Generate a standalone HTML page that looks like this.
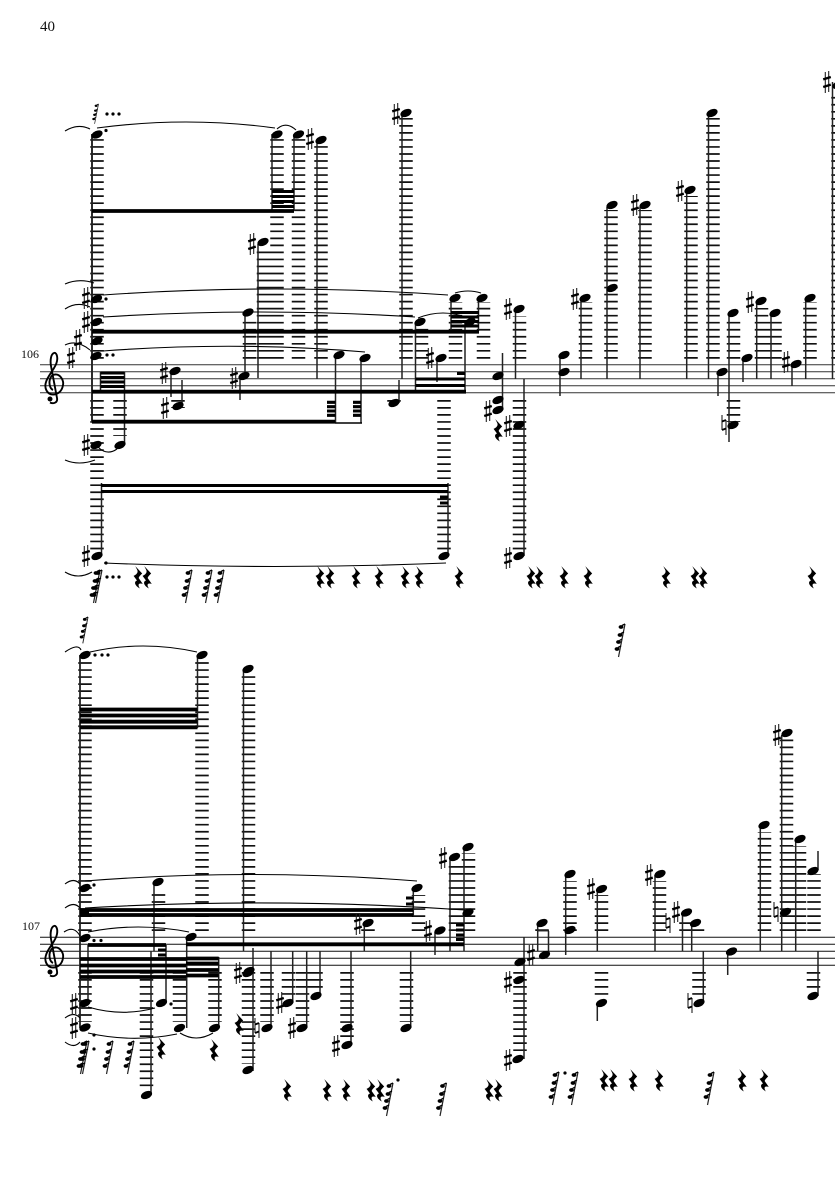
<!DOCTYPE html>
<html><head><meta charset="utf-8"><style>
html,body{margin:0;padding:0;background:#fff}svg{display:block}
.t{font-family:"Liberation Serif",serif;fill:#111}
.sl{fill:none;stroke:#000;stroke-width:1.1}
.s{fill:none;stroke:#222;stroke-width:1.5}
.L{fill:none;stroke:#111;stroke-width:13.5;stroke-dasharray:1.7 5.33}
.b{fill:none;stroke:#000;stroke-width:3.8}
.bt{fill:none;stroke:#000;stroke-width:3.1}
</style></head><body>
<svg xmlns="http://www.w3.org/2000/svg" width="835" height="1181" viewBox="0 0 835 1181">
<defs>
<ellipse id="n" rx="5.9" ry="3.7" transform="rotate(-24)"/>
<circle id="d" r="1.6"/>
<g id="h"><path d="M-1.7-10V11M1.7-11V10" stroke="#222" stroke-width="1.1" fill="none"/><path d="M-3.8-2.6L3.8-5M-3.8 5L3.8 2.6" stroke="#000" stroke-width="2.4" fill="none"/></g>
<g id="a"><path d="M-2-10V5M2-5V10" stroke="#222" stroke-width="1.1" fill="none"/><path d="M-2-3.5L2-5M-2 5L2 3.5" stroke="#000" stroke-width="1.8" fill="none"/></g>
<path id="r" transform="scale(1.15)" d="M-1.5-9.5L4.5-3C2.5-1 1.5 0 1.5 1L5 6C2 5 0 6 2.5 10C-2 7.5-3 4 0 3L-3-1C-.5-2 1.5-4 0-6.5Z"/>
<g id="k"><path d="M0 0L-6.5 33" stroke="#222" stroke-width="1.2" fill="none"/><ellipse cx="-4" cy="3" rx="2.4" ry="1.9"/><ellipse cx="-5" cy="11" rx="2.4" ry="1.9"/><ellipse cx="-6.5" cy="18" rx="2.4" ry="1.9"/><ellipse cx="-8" cy="25" rx="2.4" ry="1.9"/><path d="M-3 1.5L0 0M-4 9.5L-1 8M-5.5 16.5L-3 15M-7 23.5L-4 22" stroke="#000" stroke-width="1.3" fill="none"/></g>
<g id="c" fill="none" stroke="#000"><path stroke-width="1.9" d="M53 390C48 388 48 375 55 374.5C60 374 64 380 63 385C62 392 57 394.5 53 394.5C47 394.5 44 388 46 382C48 375 56 368 57 361C58 356 56 352 54 353C51 354 50 360 51 366L57 398C58 403 53 404 50 402.5"/><circle cx="50" cy="399" r="2.5" fill="#000" stroke="none"/></g>
</defs>
<rect width="835" height="1181" fill="#fff"/>
<text class="t" x="40" y="31" font-size="15">40</text>
<text class="t" x="21" y="358" font-size="12">106</text>
<text class="t" x="22" y="930" font-size="12">107</text>

<!-- staves -->
<path fill="none" stroke="#333" stroke-width="1" d="M40 364.7H835M40 371.7H835M40 378.7H835M40 385.7H835M40 392.7H835"/>
<path fill="none" stroke="#111" stroke-width="1" d="M40 937.3H835M40 944.3H835M40 951.3H835M40 958.3H835M40 965.3H835"/>
<use href="#c"/>
<use href="#c" y="573"/>

<!-- SYSTEM 1 ledgers -->
<path class="L" d="M97 358.7V138M277 358.7V138M298.5 358.7V138M321 358.7V143M263.5 358.7V248M249.5 358.7V318M406 358.7V118M455.5 358.7V302M483.5 358.7V302M421.5 358.7V328M519.5 358.7V316M585.5 358.7V302M611 358.7V210M645 358.7V210M691 358.7V196M713 358.7V118M733.5 358.7V318M761.5 358.7V308M775 358.7V318M810 358.7V302M838 358.7V92"/>
<path class="L" d="M97 400V552M120 400V436M178 400V408M394 400V402M444 400V552M519.5 400V552M733.5 400V422"/>
<!-- stems -->
<path class="s" d="M272 134V211M294 134V211M317 142V379M258 244V378M402 115V379M245 313V376M240 378V400M171 373V397M182 380V406M335.5 355V423M361 358V423M124.5 372V445M100.5 372V392M101.5 483V556M448 483V556M399 380V403M415.5 323V392M465 323V392M437 360V382M451 300V331M478.5 300V331M515.5 310V379M502.5 353V410M524 379V556M560 355V396M581 300V379M607 207V379M640 207V379M686.7 192V379M708.5 115V379M718 373V396M729 315V442M743 360V382M756.7 303V379M771 315V379M792 365V386M805.7 300V379M832.5 82V379"/>
<path class="s" style="stroke-width:1.9" d="M92 134V422"/>
<!-- beams -->
<path class="b" d="M92 211H294M92 331.7H479M92 391.7H466M92 421.7H335"/>
<path class="bt" d="M272 191.5H294M272 196.5H294M272 201.5H294M272 206.5H294"/>
<path class="bt" d="M100.5 373H124.5M100.5 377.5H124.5M100.5 382H124.5M100.5 386.5H124.5"/>
<path class="bt" d="M327 402.3H335.5M327 406.7H335.5M327 411H335.5M327 415.3H335.5M353 402.3H361M353 406.7H361M353 411H361M353 415.3H361"/>
<path fill="none" stroke="#000" stroke-width="1.5" d="M335 423H362"/>
<path class="bt" d="M101 485.5H448M101 491.5H448M440 497H448M440 503H448"/>
<path class="bt" d="M451 312.5H479M451 317H479M451 321.5H479M451 326H479M415.5 379H465M415.5 385.5H465M457 373.5H465"/>
<!-- slurs -->
<path class="sl" d="M97 128Q186 116 275 128M277 129Q286 121 296 130M65 131Q78 123 90 129M65 284Q79 278 94 283M65 309Q77 301 90 307M65 345Q77 339 90 350M65 460Q79 466 95 460M65 572Q78 580 92 572M98 447Q107 456 117 449M103 295Q275 283 448 295M103 317Q260 307 415 317M103 351Q235 341 365 352M418 318Q443 308 468 318M455 293Q468 289 481 293M104 563Q275 570 446 563"/>
<!-- notes s1 -->
<g>
<use href="#n" x="97" y="134.5"/><use href="#n" x="277" y="134.5"/><use href="#n" x="298.5" y="134.5"/><use href="#n" x="321" y="140"/>
<use href="#n" x="263" y="242"/><use href="#n" x="248" y="312.5"/><use href="#n" x="244" y="376"/><use href="#n" x="175" y="371"/><use href="#n" x="178" y="406"/>
<use href="#n" x="339" y="355"/><use href="#n" x="365" y="358"/><use href="#n" x="394" y="403"/><use href="#n" x="406" y="113"/><use href="#n" x="420" y="322"/><use href="#n" x="441" y="358"/><use href="#n" x="455" y="298"/><use href="#n" x="482" y="298"/><use href="#n" x="470" y="322"/><use href="#n" x="444" y="556"/>
<use href="#n" x="96.5" y="299"/><use href="#n" x="96.5" y="322"/><use href="#n" x="97" y="341"/><use href="#n" x="96" y="356"/><use href="#n" x="96" y="445"/><use href="#n" x="120" y="445"/><use href="#n" x="97" y="556"/>
<use href="#n" x="519" y="309"/><use href="#n" x="498" y="376"/><use href="#n" x="498" y="400"/><use href="#n" x="498" y="410"/><use href="#n" x="519" y="425"/><use href="#n" x="519" y="556"/>
<use href="#n" x="564" y="355"/><use href="#n" x="564" y="372"/><use href="#n" x="585" y="298"/><use href="#n" x="612" y="288"/><use href="#n" x="612" y="205"/><use href="#n" x="645" y="205"/><use href="#n" x="690" y="190"/><use href="#n" x="712" y="113"/><use href="#n" x="722" y="372"/><use href="#n" x="733" y="313"/><use href="#n" x="733" y="425"/><use href="#n" x="747" y="358"/><use href="#n" x="761" y="301"/><use href="#n" x="775" y="313"/><use href="#n" x="796" y="364"/><use href="#n" x="810" y="298"/><use href="#n" x="838" y="85"/>
</g>
<!-- sharps s1 -->
<g>
<use href="#h" x="310" y="139"/><use href="#h" x="252" y="244"/><use href="#h" x="396" y="114"/><use href="#h" x="86" y="298"/><use href="#h" x="86" y="322"/><use href="#h" x="78" y="340"/><use href="#h" x="71" y="358"/><use href="#h" x="86" y="445"/><use href="#h" x="86" y="556"/><use href="#h" x="164" y="373"/><use href="#h" x="165" y="408"/><use href="#h" x="234" y="378"/><use href="#h" x="430" y="358"/><use href="#h" x="508" y="309"/><use href="#h" x="488" y="411"/><use href="#h" x="508" y="426"/><use href="#h" x="508" y="558"/><use href="#h" x="575" y="299"/><use href="#h" x="635" y="205"/><use href="#h" x="680" y="191"/><use href="#h" x="750" y="302"/><use href="#h" x="786" y="362"/><use href="#h" x="827" y="82"/><use href="#a" x="724" y="425"/>
</g>
<!-- dots s1 -->
<g>
<use href="#d" x="106" y="130.5"/><use href="#d" x="107" y="114"/><use href="#d" x="113" y="114"/><use href="#d" x="119" y="114"/><use href="#d" x="106" y="299"/><use href="#d" x="107" y="355"/><use href="#d" x="113" y="355"/><use href="#d" x="106" y="563"/><use href="#d" x="107" y="577"/><use href="#d" x="113" y="577"/><use href="#d" x="119" y="577"/>
</g>
<!-- rests/stacks s1 -->
<g>
<g transform="translate(98.5,104) scale(.6)"><use href="#k"/></g>
<use href="#k" x="100" y="570"/><use href="#k" x="102" y="570"/>
<use href="#k" x="192" y="570"/><use href="#k" x="212" y="570"/><use href="#k" x="224" y="570"/>
<use href="#r" x="497" y="430"/>
<use href="#r" x="137" y="577"/><use href="#r" x="146" y="577"/><use href="#r" x="319" y="577"/><use href="#r" x="329" y="577"/><use href="#r" x="355" y="577"/><use href="#r" x="378" y="577"/><use href="#r" x="404" y="577"/><use href="#r" x="418" y="577"/><use href="#r" x="458" y="577"/><use href="#r" x="530" y="577"/><use href="#r" x="538" y="577"/><use href="#r" x="563" y="577"/><use href="#r" x="587" y="577"/><use href="#r" x="665" y="577"/><use href="#r" x="694" y="577"/><use href="#r" x="702" y="577"/><use href="#r" x="811" y="577"/>
</g>

<!-- SYSTEM 2 ledgers -->
<path class="L" d="M85 931V658M202 931V658M248.5 931V674M158.5 931V889M418.5 931V895M368 931V929M455.5 931V862M468.500 931V853M570 931V881M601.5 931V895M659.5 931V881M686 931V918M697.5 931V928M764.5 931V832M786.5 931V739M799.5 931V846M814 931V874M542 931V929"/>
<path class="L" d="M85 972V1022M179.5 972V1022M215 972V1022M146.5 972V1089M248.5 972V1064M267 972V1022M288.5 972V997M302.5 972V1022M316 972V990M347 972V1040M406.5 972V1022M520 972V1053M601.5 972V997M699 972V997M813.5 972V990"/>
<!-- stems s2 -->
<path class="s" style="stroke-width:1.8" d="M80 655V1028"/>
<path class="s" d="M197.5 655V728M243.5 670V951M154 883V951M151 951V1095M166 945V1003M88 945V1003M186.7 938V1028M218.7 957V1028M253 948V1071M271 951V1028M292.7 951V1003M306.7 951V1028M320 951V996M351 951V1045M410.7 951V1028M413.3 889V916M364.3 925V951M435 932V955M450 858V951M464 849V951M524 937V1059M537.7 925V951M548.5 931V955M565.7 875V955M597.3 890V951M597.3 1003V1021M655 875V951M682.5 914V951M691.7 925V951M703.3 951V1003M727.7 952V975M760.3 826V951M781.7 735V951M795.700 841V951M818 851V870M818 951V996"/>
<!-- beams s2 -->
<path class="b" d="M80 709.5H197.5M80 715.5H197.500M80 721.7H197.5M80 727.3H197.5"/>
<path class="b" d="M80 910H413.3M80 915H413.3M88 945H166M80 959H186M80 965.5H186M80 971.5H186M80 977H186M186 944.3H464"/>
<path class="b" d="M186 958.5H218.7M186 963.5H218.7M186 970H218.7M186 975.5H218.7"/>
<path class="bt" d="M158 950H166M158 955H166M406 898H413.3M406 904H413.3M456 925H464M456 930H464M456 935H464M456 939.5H464"/>
<path fill="none" stroke="#222" stroke-width="1.5" d="M537.7 930.7H549"/>
<rect x="80" y="909" width="9" height="7.5"/>
<!-- slurs s2 -->
<path class="sl" d="M65 652Q78 643 81 650M90 652Q143 640 197 652M65 884Q74 877 80 884M85 881Q250 868 417 881M65 908Q74 901 80 908M85 908Q275 897 465 910M64 932Q74 925 80 936M88 932Q138 922 189 932M88 1007Q122 1017 155 1008M88 1033Q132 1043 177 1034M180 1033Q196 1043 213 1033M65 1018Q74 1011 80 1018M65 1042Q74 1049 80 1042"/>
<!-- notes s2 -->
<g>
<use href="#n" x="85" y="655"/><use href="#n" x="202" y="655"/><use href="#n" x="248" y="669"/><use href="#n" x="85" y="888"/><use href="#n" x="158" y="882"/><use href="#n" x="85" y="938"/><use href="#n" x="191" y="937"/><use href="#n" x="85" y="1003"/><use href="#n" x="85" y="1027.5"/><use href="#n" x="161.5" y="1003"/><use href="#n" x="146.5" y="1095"/><use href="#n" x="179.5" y="1028"/><use href="#n" x="214.5" y="1028"/>
<use href="#n" x="248" y="973"/><use href="#n" x="249" y="971"/><use href="#n" x="248" y="1070"/><use href="#n" x="267" y="1028"/><use href="#n" x="288" y="1003"/><use href="#n" x="302" y="1028"/><use href="#n" x="316" y="996"/><use href="#n" x="347" y="1028"/><use href="#n" x="347" y="1045"/><use href="#n" x="406" y="1028"/><use href="#n" x="417" y="888"/><use href="#n" x="368" y="923"/><use href="#n" x="440" y="930.5"/><use href="#n" x="468" y="912.5"/><use href="#n" x="454.5" y="857"/><use href="#n" x="468" y="847"/>
<use href="#n" x="519" y="980"/><use href="#n" x="520" y="962"/><use href="#n" x="518" y="1059"/><use href="#n" x="542" y="923"/><use href="#n" x="544.5" y="955"/>
<use href="#n" x="570" y="874"/><use href="#n" x="570" y="930"/><use href="#n" x="601.5" y="889"/><use href="#n" x="601.5" y="1003"/><use href="#n" x="660" y="874"/><use href="#n" x="686.5" y="912.5"/><use href="#n" x="695.5" y="923"/><use href="#n" x="699" y="1003"/><use href="#n" x="731.5" y="951.5"/><use href="#n" x="764" y="825"/><use href="#n" x="787" y="733"/><use href="#n" x="785.5" y="912"/><use href="#n" x="800" y="839"/><use href="#n" x="813" y="871"/><use href="#n" x="813" y="996"/>
</g>
<!-- sharps s2 -->
<g>
<use href="#h" x="74" y="1004"/><use href="#h" x="74" y="1028"/><use href="#h" x="238" y="973"/><use href="#h" x="280" y="1003"/><use href="#h" x="292" y="1028"/><use href="#h" x="336" y="1046"/><use href="#h" x="358" y="924"/><use href="#h" x="428" y="931"/><use href="#h" x="443" y="858"/><use href="#h" x="508" y="982"/><use href="#h" x="508" y="1060"/><use href="#h" x="531" y="955"/><use href="#h" x="591" y="889"/><use href="#h" x="649" y="875"/><use href="#h" x="676" y="912"/><use href="#h" x="777" y="735"/>
<use href="#a" x="257" y="1028"/><use href="#a" x="668" y="923"/><use href="#a" x="690" y="1003"/><use href="#a" x="776" y="912"/>
</g>
<!-- dots s2 -->
<g>
<use href="#d" x="95" y="655"/><use href="#d" x="102" y="655"/><use href="#d" x="108" y="655"/><use href="#d" x="94" y="885"/><use href="#d" x="94" y="940.5"/><use href="#d" x="101" y="940.5"/><use href="#d" x="171" y="1004"/><use href="#d" x="94" y="1035"/><use href="#d" x="94" y="1049"/><use href="#d" x="398" y="1080"/><use href="#d" x="565" y="1073"/>
</g>
<!-- rests/stacks s2 -->
<g>
<g transform="translate(88,617) scale(.8)"><use href="#k"/></g><use href="#k" x="625" y="624"/>
<use href="#k" x="87" y="1041"/><use href="#k" x="89" y="1041"/>
<use href="#k" x="113" y="1041"/><use href="#k" x="134" y="1041"/>
<use href="#k" x="393" y="1083"/><use href="#k" x="446.5" y="1083"/><use href="#k" x="559" y="1072"/><use href="#k" x="578" y="1072"/><use href="#k" x="714" y="1072"/>
<use href="#r" x="160" y="1048"/><use href="#r" x="213" y="1050"/><use href="#r" x="238" y="1024"/>
<use href="#r" x="286" y="1090"/><use href="#r" x="326" y="1090"/><use href="#r" x="345" y="1090"/><use href="#r" x="370" y="1090"/><use href="#r" x="379" y="1090"/><use href="#r" x="488" y="1090"/><use href="#r" x="497" y="1090"/><use href="#r" x="603" y="1080"/><use href="#r" x="612" y="1080"/><use href="#r" x="632" y="1080"/><use href="#r" x="658" y="1080"/><use href="#r" x="741" y="1080"/><use href="#r" x="763" y="1080"/>
</g>
</svg>
</body></html>
